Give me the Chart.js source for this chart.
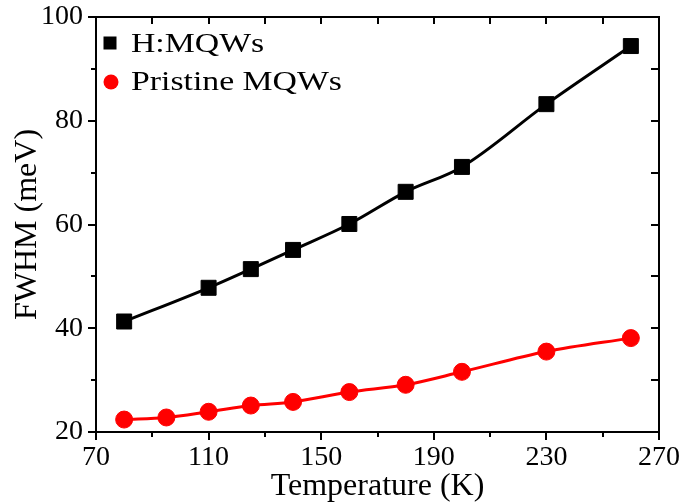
<!DOCTYPE html>
<html><head><meta charset="utf-8">
<script src="https://cdn.jsdelivr.net/npm/chart.js@4.4.1/dist/chart.umd.min.js"></script>
<style>html,body{margin:0;padding:0;background:#fff;}</style>
</head><body>
<canvas id="c" width="687" height="504"></canvas>
<script>
const temperaturesH = [80, 110, 125, 140, 160, 180, 200, 230, 260];
const fwhmH = [41.3, 47.8, 51.4, 55.1, 60.1, 66.3, 71.1, 83.2, 94.4];
const temperaturesP = [80, 95, 110, 125, 140, 160, 180, 200, 230, 260];
const fwhmP = [22.4, 22.8, 23.9, 25.1, 25.8, 27.7, 29.1, 31.6, 35.5, 38.1];
const xTicks = [70, 110, 150, 190, 230, 270];
const yTicks = [20, 40, 60, 80, 100];
const seriesNames = ['H:MQWs', 'Pristine MQWs'];
const xTitle = 'Temperature (K)';
const yTitle = 'FWHM (meV)';

const SERIF = '"Liberation Serif", "Times New Roman", Times, serif';

const framePlugin = {
  id: 'frame',
  beforeDatasetsDraw(chart) {
    const {ctx, chartArea: a, scales: {x, y}} = chart;
    ctx.save();
    ctx.strokeStyle = '#000';
    ctx.lineWidth = 2;
    ctx.strokeRect(a.left, a.top, a.right - a.left, a.bottom - a.top);
    ctx.beginPath();
    const xStep = (xTicks[1] - xTicks[0]) / 2;
    for (let v = x.min; v <= x.max + 1e-9; v += xStep) {
      const px = Math.round(x.getPixelForValue(v));
      const major = xTicks.includes(v);
      ctx.moveTo(px, a.bottom); ctx.lineTo(px, a.bottom + (major ? 8 : 5));
      ctx.moveTo(px, a.top); ctx.lineTo(px, a.top + 7);
    }
    const yStep = (yTicks[1] - yTicks[0]) / 2;
    for (let v = y.min; v <= y.max + 1e-9; v += yStep) {
      const py = Math.round(y.getPixelForValue(v));
      const major = yTicks.includes(v);
      ctx.moveTo(a.left, py); ctx.lineTo(a.left - (major ? 8 : 5), py);
      ctx.moveTo(a.right, py); ctx.lineTo(a.right - 8, py);
    }
    ctx.stroke();
    ctx.restore();
  }
};

const legendPlugin = {
  id: 'innerLegend',
  afterDraw(chart) {
    const {ctx, chartArea: a} = chart;
    ctx.save();
    const rows = [
      {name: seriesNames[0], color: '#000', shape: 'rect', cy: a.top + 26, base: a.top + 35},
      {name: seriesNames[1], color: '#ff0000', shape: 'circle', cy: a.top + 65, base: a.top + 73}
    ];
    const mx = a.left + 14;
    rows.forEach(r => {
      ctx.fillStyle = r.color;
      if (r.shape === 'rect') {
        ctx.fillRect(mx - 6.5, r.cy - 6.5, 13, 13);
      } else {
        ctx.beginPath(); ctx.arc(mx + 1, r.cy, 7.5, 0, Math.PI * 2); ctx.fill();
      }
      ctx.fillStyle = '#000';
      ctx.font = '27px ' + SERIF;
      ctx.textBaseline = 'alphabetic';
      ctx.textAlign = 'left';
      ctx.save();
      ctx.translate(a.left + 35, r.base);
      ctx.scale(1.25, 1);
      ctx.fillText(r.name, 0, 0);
      ctx.restore();
    });
    ctx.restore();
  }
};

function noOverflow(s) {
  s.paddingTop = 0; s.paddingBottom = 0; s.paddingLeft = 0; s.paddingRight = 0;
}

function draw() {
  new Chart(document.getElementById('c'), {
    type: 'line',
    data: {
      datasets: [
        {
          label: seriesNames[0],
          data: temperaturesH.map((t, i) => ({x: t, y: fwhmH[i]})),
          borderColor: '#000', backgroundColor: '#000',
          borderWidth: 3, cubicInterpolationMode: 'monotone',
          pointStyle: 'rect', pointRadius: 10.6,
          pointBackgroundColor: '#000', pointBorderColor: '#000', pointBorderWidth: 1
        },
        {
          label: seriesNames[1],
          data: temperaturesP.map((t, i) => ({x: t, y: fwhmP[i]})),
          borderColor: '#ff0000', backgroundColor: '#ff0000',
          borderWidth: 3, cubicInterpolationMode: 'monotone',
          pointStyle: 'circle', pointRadius: 8.5,
          pointBackgroundColor: '#ff0000', pointBorderColor: '#ff0000', pointBorderWidth: 1
        }
      ]
    },
    options: {
      responsive: false,
      animation: false,
      devicePixelRatio: 1,
      layout: {padding: {left: 0, right: 28, top: 17, bottom: 0}},
      plugins: {legend: {display: false}, tooltip: {enabled: false}},
      scales: {
        x: {
          type: 'linear', min: 70, max: 270,
          afterBuildTicks: s => { s.ticks = xTicks.map(v => ({value: v})); },
          afterFit: s => { s.height = 72; noOverflow(s); },
          grid: {display: false, drawTicks: false},
          border: {display: false},
          ticks: {color: '#000', font: {family: SERIF, size: 28}, padding: 9, maxRotation: 0, autoSkip: false},
          title: {display: true, text: xTitle, color: '#000', font: {family: SERIF, size: 32}, padding: {top: 0, bottom: -2}}
        },
        y: {
          type: 'linear', min: 20, max: 100,
          afterBuildTicks: s => { s.ticks = yTicks.map(v => ({value: v})); },
          afterFit: s => { s.width = 96; noOverflow(s); },
          grid: {display: false, drawTicks: false},
          border: {display: false},
          ticks: {color: '#000', font: {family: SERIF, size: 28}, padding: 13, autoSkip: false},
          title: {display: true, text: yTitle, color: '#000', font: {family: SERIF, size: 32}, padding: {top: 8, bottom: 0}}
        }
      }
    },
    plugins: [framePlugin, legendPlugin]
  });
}

if (document.fonts && document.fonts.load) {
  Promise.all([
    document.fonts.load('28px "Liberation Serif"'),
    document.fonts.load('32px "Liberation Serif"')
  ]).then(draw, draw);
} else {
  draw();
}
</script>
</body></html>
